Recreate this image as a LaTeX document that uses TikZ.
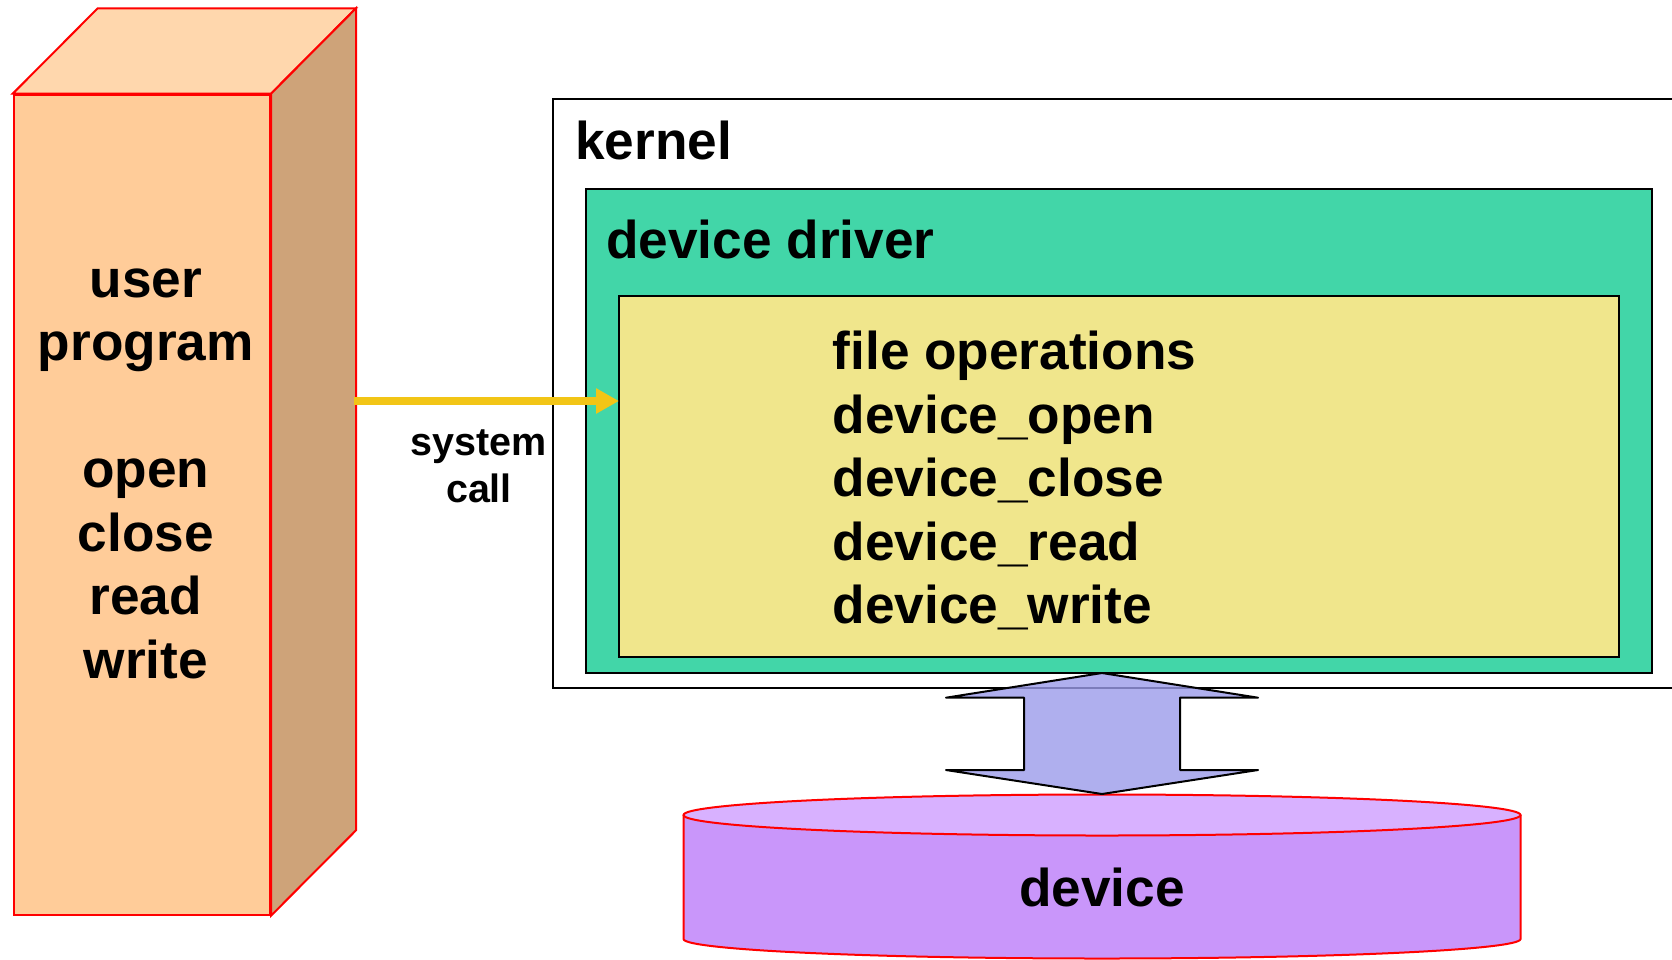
\documentclass[tikz,border=0pt]{standalone}
\usepackage{fontspec}
\setmainfont{Liberation Sans}
\usetikzlibrary{arrows.meta,calc}

\definecolor{frontface}{RGB}{255,204,153}
\definecolor{topface}{RGB}{255,215,173}
\definecolor{sideface}{RGB}{206,163,121}
\definecolor{drivergreen}{RGB}{66,214,168}
\definecolor{opsyellow}{RGB}{240,230,140}
\definecolor{callgold}{RGB}{242,197,22}
\definecolor{busblue}{RGB}{155,155,234}
\definecolor{disktop}{RGB}{216,177,255}
\definecolor{diskbody}{RGB}{201,150,250}

\tikzset{
  face/.style={draw=red, line width=2pt},
  panel/.style={draw=black, line width=2pt, inner sep=0pt, outer sep=0pt, anchor=north west},
  bigtext/.style={font={\fontsize{53.2}{63.5}\selectfont\bfseries}, inner sep=0pt, text=black},
  smalltext/.style={font={\fontsize{39.5}{47}\selectfont\bfseries}, inner sep=0pt, text=black},
}

\begin{document}
\begin{tikzpicture}[x=1pt,y=-1pt]
\useasboundingbox (0,0) rectangle (1672,959);
\clip (0,0) rectangle (1672,959);

% user program column (box in perspective)
\node[face, fill=frontface, inner sep=0pt, anchor=north west,
      minimum width=256.3pt, minimum height=820pt] (front) at (12.7,93.7) {};
\filldraw[face, fill=topface]
  (front.north west) -- ($(front.north west)+(85,-85.4)$)
  -- ($(front.north east)+(85,-85.4)$) -- (front.north east) -- cycle;
\filldraw[face, fill=sideface]
  (front.north east) -- ($(front.north east)+(85,-85.4)$)
  -- ($(front.south east)+(85,-85.4)$) -- (front.south east) -- cycle;
% multi-line nodes: base anchor sits on the last line
\node[bigtext, align=center, anchor=base] (utext) at (145.8,678)
  {user\\program\\[63.5pt]open\\close\\read\\write};

% kernel and driver
\node[panel, fill=white, minimum width=1147.5pt, minimum height=589.8pt] (kernel) at (552.5,98.5) {};
\node[bigtext, anchor=base west] (klabel) at (575,159) {kernel};
\node[panel, fill=drivergreen, minimum width=1066.2pt, minimum height=483.7pt] (driver) at (585.5,189) {};
\node[bigtext, anchor=base west] (dlabel) at (606,258.5) {device driver};
\node[panel, fill=opsyellow, minimum width=999.5pt, minimum height=361.3pt] (ops) at (619,296) {};
\node[bigtext, align=left, anchor=base west] (opstext) at (832.5,623.5)
  {file operations\\device\_open\\device\_close\\device\_read\\device\_write};

% system call
\coordinate (callsrc) at (354,401);
\draw[callgold, line width=7.7pt, -{Triangle[length=23pt,width=24pt]}] (callsrc) -- (ops.west |- callsrc);
\node[smalltext, align=center, anchor=base] (sc) at (479,502) {system\\call};

% device disk
\fill[diskbody] (683.5,815) -- (683.5,939)
  arc[start angle=180, end angle=0, x radius=418.5, y radius=19.5] -- (1520.5,815) -- cycle;
\draw[red, line width=2pt] (683.5,815) -- (683.5,939)
  arc[start angle=180, end angle=0, x radius=418.5, y radius=19.5] -- (1520.5,815);
\filldraw[red, line width=2pt, fill=disktop] (1102,815) ellipse[x radius=418.5, y radius=20.5];
\node[bigtext, anchor=base] (device) at (1102,906) {device};

% driver <-> device transfer
\coordinate (dtop) at (1102,673);
\coordinate (dbot) at (1102,794);
\draw[fill=busblue, fill opacity=0.8, draw=black, line width=2pt, line join=round]
  (dtop) -- ++(156,24.7) -- ++(-78,0) -- ++(0,72.3) -- ++(78,0) -- (dbot)
  -- ++(-156,-24) -- ++(78,0) -- ++(0,-72.3) -- ++(-78,0) -- cycle;
\end{tikzpicture}
\end{document}
